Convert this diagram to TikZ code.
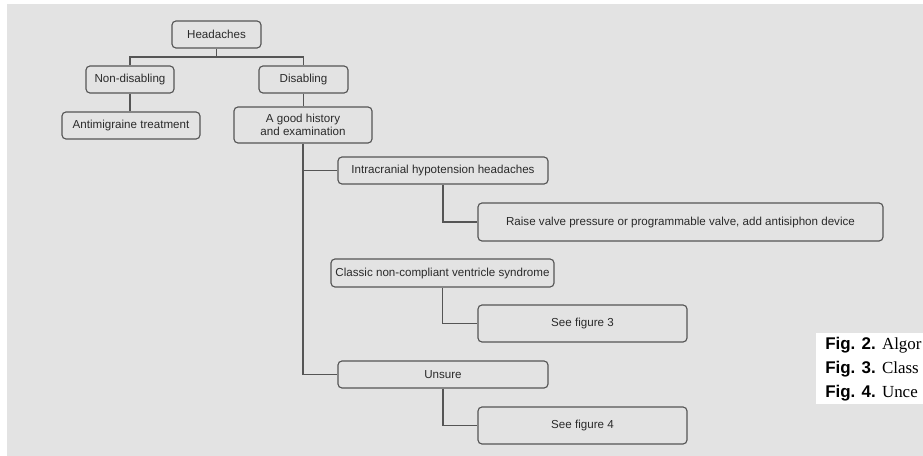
\documentclass[tikz,border=0pt]{standalone}
\usepackage{fontspec}
\setmainfont{Liberation Sans}
\newfontfamily\capserif{Liberation Serif}
\definecolor{bg}{HTML}{E3E3E3}
\definecolor{ln}{HTML}{555555}
\definecolor{tx}{HTML}{2A2A2A}
\tikzset{
  sz/.style 2 args={minimum width={#1*0.75pt}, minimum height={#2*0.75pt}},
  box/.style={draw=ln, line width=0.85pt, rounded corners=3pt, inner sep=0pt,
    align=center, text=tx, font=\fontsize{8.7}{10}\selectfont},
  conn/.style={draw=ln, line width=0.85pt},
  captext/.style={anchor=west, inner sep=0pt, text=black, font=\fontsize{12.7}{14}\selectfont}
}
\begin{document}
\begin{tikzpicture}[x=0.75pt,y=-0.75pt]
\path[use as bounding box] (0,0) rectangle (923,456);
\clip (0,0) rectangle (923,456);
\fill[white] (0,0) rectangle (923,456);
\fill[bg] (7,4) rectangle (923,456);
\fill[white] (816,333) rectangle (923,404);

\node[box, sz={89}{27}] (H) at (216.5,34.5) {Headaches};
\node[box, sz={88}{27}] (ND) at (130,79.5) {Non-disabling};
\node[box, sz={89}{27}] (D) at (303.5,79.5) {Disabling};
\node[box, sz={138}{27}] (AM) at (131,125.5) {Antimigraine treatment};
\node[box, sz={138}{36}] (G) at (303,125) {A good history\\and examination};
\node[box, sz={210}{27}] (I) at (443,170.5) {Intracranial hypotension headaches};
\node[box, sz={405}{38}] (R) at (680.5,222) {Raise valve pressure or programmable valve, add antisiphon device};
\node[box, sz={223}{28}] (C) at (442.5,273) {Classic non-compliant ventricle syndrome};
\node[box, sz={209}{37}] (S3) at (582.5,323.5) {See figure 3};
\node[box, sz={210}{27}] (U) at (443,374.5) {Unsure};
\node[box, sz={209}{37}] (S4) at (582.5,425.5) {See figure 4};

\coordinate (j1) at (216.5,57);
\draw[conn] (H.south) -- (j1);
\draw[conn] (ND.north) |- (j1) -| (D.north);
\draw[conn] (ND.south) -- (ND.south |- AM.north);
\draw[conn] (D.south) -- (D.south |- G.north);
\draw[conn] (G.south) |- (U.west);
\draw[conn] (I.west) -- (I.west -| G.south);
\draw[conn] (I.south) |- (R.west);
\draw[conn] (C.south) |- (S3.west);
\draw[conn] (U.south) |- (S4.west);

\node[captext] (F2) at (825,345) {\textbf{Fig. 2.} {\capserif Algor}};
\node[captext] (F3) at (825,369) {\textbf{Fig. 3.} {\capserif Class}};
\node[captext] (F4) at (825,393) {\textbf{Fig. 4.} {\capserif Unce}};
\end{tikzpicture}
\end{document}
